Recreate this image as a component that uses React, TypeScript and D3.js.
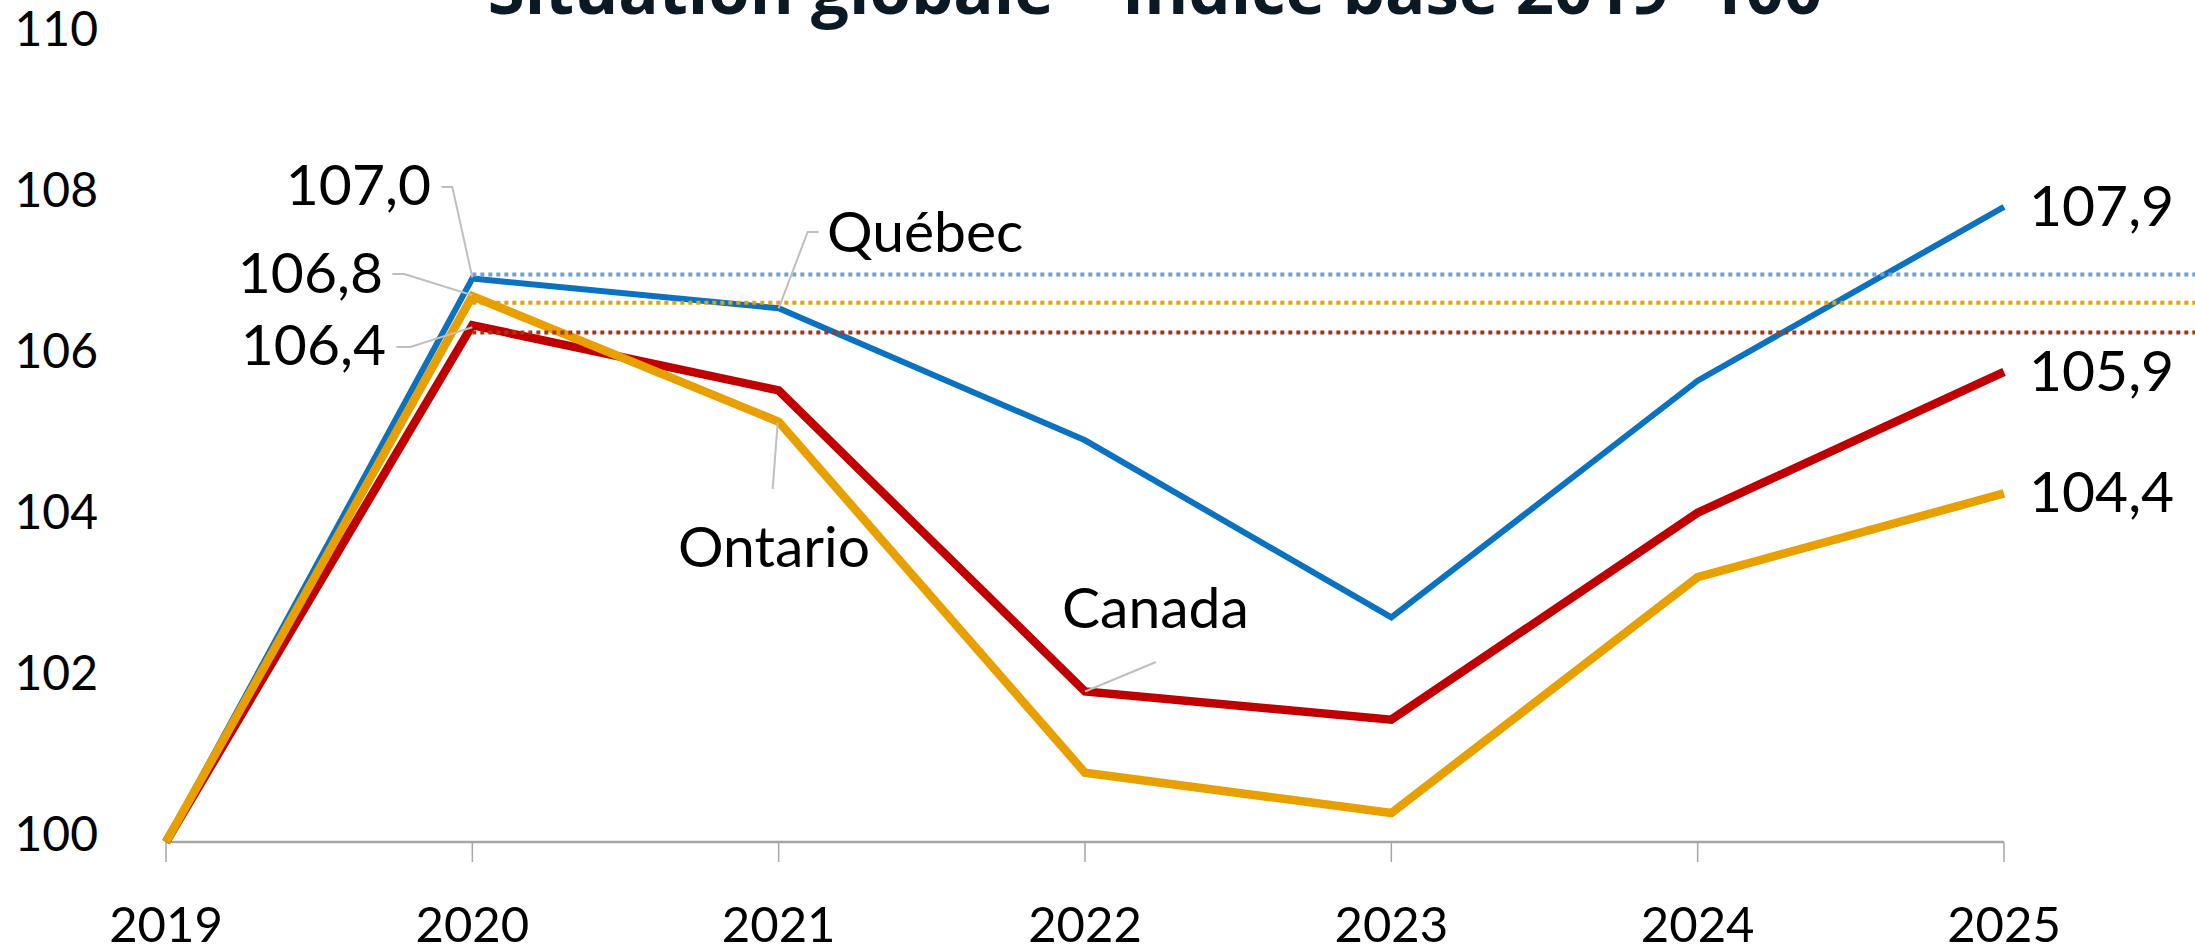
import React from "react";
import * as d3 from "d3";

const years = [2019, 2020, 2021, 2022, 2023, 2024, 2025];
const quebec = [100, 107.0, 106.63, 104.99, 102.79, 105.73, 107.89];
const canada = [100, 106.42, 105.61, 101.87, 101.52, 104.09, 105.84];
const ontario = [100, 106.78, 105.22, 100.86, 100.36, 103.29, 104.33];
const refQuebec = 107.05;
const refOntario = 106.7;
const refCanada = 106.33;
const yTicks = [100, 102, 104, 106, 108, 110];
const peakLabels = ["107,0", "106,8", "106,4"];
const endLabels = ["107,9", "105,9", "104,4"];
const seriesNames = ["Québec", "Ontario", "Canada"];
const title = "Situation globale – Indice base 2019=100";

const W = 2195;
const H = 949;
const LABEL_FONT = "Lato, 'Noto Sans', sans-serif";

export default function App() {
  const x = d3.scaleLinear().domain([2019, 2025]).range([166, 2004]);
  const y = d3.scaleLinear().domain([100, 110]).range([842, 37]);
  const line = d3
    .line<number>()
    .x((_, i) => x(years[i]))
    .y((d) => y(d));

  const blue = "#0a72c1";
  const red = "#c00000";
  const orange = "#e89f00";
  const leader = "#bfbfbf";

  const px = x(2020);
  const bq = y(quebec[1]);
  const bo = y(ontario[1]);
  const bc = y(canada[1]);

  const q21 = [x(2021), y(quebec[2])];
  const o21 = [x(2021), y(ontario[2])];
  const c22 = [x(2022), y(canada[3])];

  return (
    <div style={{ position: "fixed", left: 0, top: 0 }}>
      <svg width={W} height={H} style={{ display: "block", background: "#fff" }}>
        {/* title (cut at top) */}
        <text
          x={1155}
          y={14}
          textAnchor="middle"
          fontFamily="'Open Sans', sans-serif"
          fontWeight={700}
          fontSize={67}
          fill="#0a1923"
        >
          {title}
        </text>

        {/* y tick labels */}
        {yTicks.map((t) => (
          <text
            key={t}
            x={98}
            y={y(t) + 8.5}
            textAnchor="end"
            fontFamily={LABEL_FONT}
            fontSize={48}
            fill="#000"
          >
            {t}
          </text>
        ))}

        {/* x axis */}
        <line x1={x(2019)} x2={x(2025)} y1={y(100)} y2={y(100)} stroke="#a6a6a6" strokeWidth={2.5} />
        {years.map((yr) => (
          <g key={yr}>
            <line x1={x(yr)} x2={x(yr)} y1={y(100)} y2={y(100) + 20} stroke="#a6a6a6" strokeWidth={1.5} />
            <text
              x={x(yr)}
              y={942}
              textAnchor="middle"
              fontFamily={LABEL_FONT}
              fontSize={49}
              fill="#000"
            >
              {yr}
            </text>
          </g>
        ))}

        {/* series */}
        <path d={line(quebec) || ""} fill="none" stroke={blue} strokeWidth={6} strokeLinejoin="miter" />
        <path d={line(canada) || ""} fill="none" stroke={red} strokeWidth={8.5} strokeLinejoin="miter" />
        <path d={line(ontario) || ""} fill="none" stroke={orange} strokeWidth={8.5} strokeLinejoin="miter" />

        {/* dotted reference lines */}
        <line x1={px} x2={W} y1={y(refCanada)} y2={y(refCanada)} stroke="#ac3412" strokeWidth={4} strokeDasharray="4,4" />
        <line x1={px} x2={W} y1={y(refOntario)} y2={y(refOntario)} stroke={orange} strokeWidth={4} strokeDasharray="4,4" />
        <line x1={px} x2={W} y1={y(refQuebec)} y2={y(refQuebec)} stroke="#6ea0d2" strokeWidth={4} strokeDasharray="4,4" />

        {/* leader lines */}
        <g fill="none" stroke={leader} strokeWidth={2}>
          <polyline points={`${px - 31},187 ${px - 20},187 ${px},${bq - 1}`} />
          <polyline points={`${px - 80},274 ${px - 68},274 ${px},${bo - 1}`} />
          <polyline points={`${px - 76},347 ${px - 62},347 ${px},${bc + 2}`} />
          <polyline points={`${q21[0] + 40},232 ${q21[0] + 29},232 ${q21[0]},${q21[1]}`} />
          <polyline points={`${o21[0] - 6},489 ${o21[0] - 1},${o21[1] + 1}`} />
          <polyline points={`${c22[0] + 71},662 ${c22[0]},${c22[1]}`} />
        </g>

        {/* peak labels */}
        <g fontFamily={LABEL_FONT} fontSize={57} fill="#000" textAnchor="end">
          <text x={431} y={205}>{peakLabels[0]}</text>
          <text x={383} y={293}>{peakLabels[1]}</text>
          <text x={386} y={365}>{peakLabels[2]}</text>
        </g>

        {/* series names */}
        <g fontFamily={LABEL_FONT} fontSize={57} fill="#000">
          <text x={827} y={252}>{seriesNames[0]}</text>
          <text x={774} y={567} textAnchor="middle">{seriesNames[1]}</text>
          <text x={1062} y={628}>{seriesNames[2]}</text>
        </g>

        {/* end labels */}
        <g fontFamily={LABEL_FONT} fontSize={57} fill="#000">
          <text x={2029} y={y(quebec[6]) + 19}>{endLabels[0]}</text>
          <text x={2029} y={y(canada[6]) + 19}>{endLabels[1]}</text>
          <text x={2029} y={y(ontario[6]) + 19}>{endLabels[2]}</text>
        </g>
      </svg>
    </div>
  );
}
